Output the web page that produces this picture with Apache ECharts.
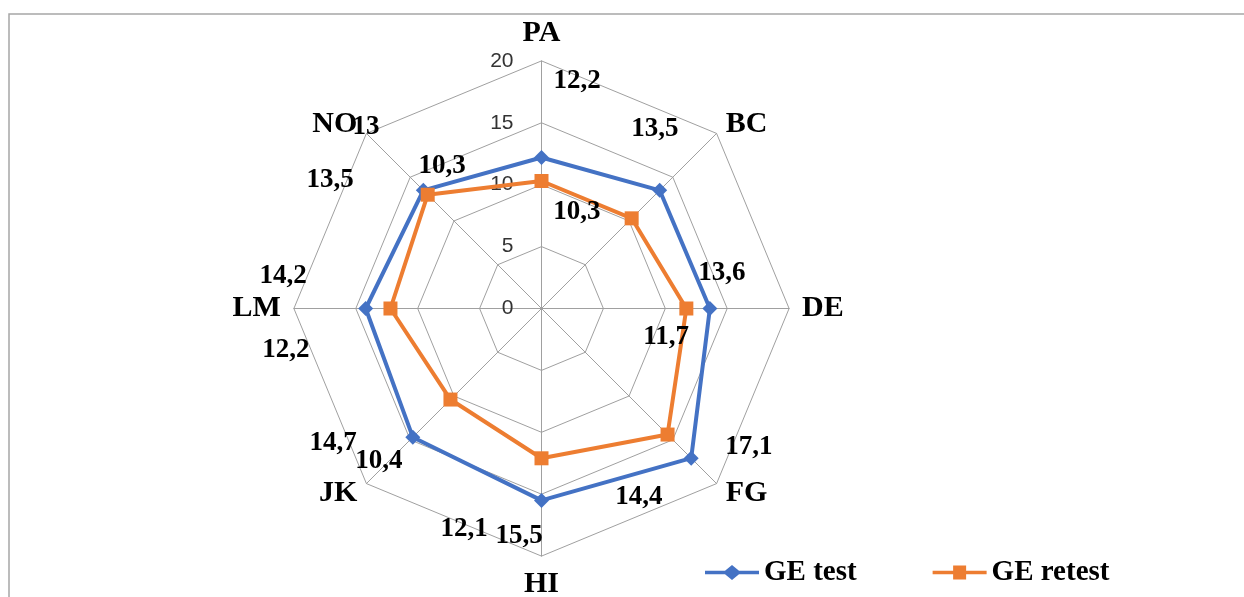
<!DOCTYPE html>
<html>
<head>
<meta charset="utf-8">
<script src="https://cdn.jsdelivr.net/npm/echarts@6/dist/echarts.min.js"></script>
<style>
html,body{margin:0;padding:0;background:#fff;}
#chart{width:1244px;height:597px;}
</style>
</head>
<body>
<div id="chart"></div>
<script>
// ---- data ----
const categories = ['PA', 'BC', 'DE', 'FG', 'HI', 'JK', 'LM', 'NO']; // clockwise from top
const geTest = [12.2, 13.5, 13.6, 17.1, 15.5, 14.7, 14.2, 13.5];
const geRetest = [10.3, 10.3, 11.7, 14.4, 12.1, 10.4, 12.2, 13];
const seriesNames = ['GE test', 'GE retest'];
const axisMin = 0;
const axisMax = 20;
const axisStep = 5;

// ---- style / layout config ----
const CX = 541.5, CY = 308.5, R = 247.6;
const colors = ['#4472C4', '#ED7D31'];
// label offsets (px) relative to each vertex, indexed clockwise like categories
const labelOffsets = [
  [[35.5, -76], [-4.7, -61], [12, -35], [57.8, -11], [-22.5, 35.5], [-79.8, 5.5], [-82.7, -32.5], [-93.3, -10.5]],
  [[-99.5, -15], [-54.7, -6.5], [-20.3, 28.5], [-28.6, 62], [-77.5, 70.5], [-71.5, 61], [-104.5, 41.5], [-61.7, -68]]
];

// ECharts radar places indicators counter-clockwise; reorder for clockwise display
const order = categories.map((c, i) => (categories.length - i) % categories.length);
const indicator = order.map((k, i) => {
  const ind = { name: categories[k], max: axisMax, min: axisMin };
  if (i === 0) ind.axisLabel = { show: true };
  return ind;
});
const reorder = arr => order.map(k => arr[k]);

function vertexIndex(px, py) {
  const ang = Math.atan2(py - CY, px - CX) * 180 / Math.PI;
  return ((Math.round((ang + 90) / 45) % 8) + 8) % 8;
}

const labelFont = { fontFamily: 'Liberation Serif', fontWeight: 'bold', fontSize: 27, color: '#000' };

function makeSeries(values, si, symbol, symbolSize) {
  return {
    type: 'radar',
    name: seriesNames[si],
    symbol: symbol,
    symbolSize: symbolSize,
    itemStyle: { color: colors[si] },
    lineStyle: { color: colors[si], width: 4 },
    label: Object.assign({
      show: true,
      position: 'inside',
      formatter: p => String(p.value).replace('.', ',')
    }, labelFont),
    labelLayout: function (params) {
      const r = params.rect;
      const k = vertexIndex(r.x + r.width / 2, r.y + r.height / 2);
      const off = labelOffsets[si][k];
      return { dx: off[0], dy: off[1] };
    },
    data: [{ name: seriesNames[si], value: reorder(values) }]
  };
}

const chart = echarts.init(document.getElementById('chart'), null, { renderer: 'canvas' });
chart.setOption({
  animation: false,
  backgroundColor: '#fff',
  graphic: [{
    type: 'rect',
    silent: true,
    shape: { x: 9, y: 14, width: 1400, height: 800 },
    style: { fill: null, stroke: '#a6a6a6', lineWidth: 1.5 }
  }],
  legend: {
    left: 705,
    top: 558,
    padding: 0,
    itemWidth: 54,
    itemHeight: 15,
    itemGap: 76,
    textStyle: { fontFamily: 'Liberation Serif', fontWeight: 'bold', fontSize: 29, color: '#000' },
    data: [
      { name: seriesNames[0], icon: 'path://M0,5.7 L20,5.7 L27,0 L34,5.7 L54,5.7 L54,9.3 L34,9.3 L27,15 L20,9.3 L0,9.3 Z', itemStyle: { color: colors[0] } },
      { name: seriesNames[1], icon: 'path://M0,5.7 L20.5,5.7 L20.5,0.5 L33.5,0.5 L33.5,5.7 L54,5.7 L54,9.3 L33.5,9.3 L33.5,14.5 L20.5,14.5 L20.5,9.3 L0,9.3 Z', itemStyle: { color: colors[1] } }
    ]
  },
  radar: {
    center: [CX, CY],
    radius: R,
    startAngle: 90,
    shape: 'polygon',
    splitNumber: (axisMax - axisMin) / axisStep,
    indicator: indicator,
    axisNameGap: 13,
    axisName: { fontFamily: 'Liberation Serif', fontWeight: 'bold', fontSize: 30, color: '#000' },
    axisLine: { show: true, lineStyle: { color: '#a0a0a0', width: 1 } },
    splitLine: { show: true, lineStyle: { color: '#a0a0a0', width: 1 } },
    splitArea: { show: false },
    axisTick: { show: false },
    axisLabel: { show: false, fontFamily: 'Liberation Sans', fontSize: 21, color: '#333', margin: 28 }
  },
  series: [
    makeSeries(geTest, 0, 'diamond', 15),
    makeSeries(geRetest, 1, 'rect', 14)
  ]
});
</script>
</body>
</html>
